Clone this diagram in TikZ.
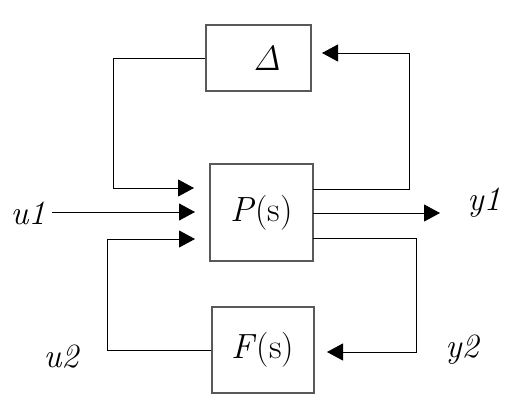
\documentclass[tikz,border=0pt]{standalone}
\usepackage{fontspec}
\usetikzlibrary{arrows.meta}
\begin{document}
\begin{tikzpicture}[x=1pt,y=-1pt,
  box/.style={draw=black!65, line width=1.1pt, inner sep=0pt, font=\fontsize{35}{40}\selectfont},
  lab/.style={font=\fontsize{34}{38}\selectfont\itshape, inner sep=0pt},
  wire/.style={line width=0.95pt},
  arr/.style={wire, -{Triangle[length=16pt,width=17pt]}}]
\useasboundingbox (0,0) rectangle (519,408);
% blocks
\node[box, minimum width=105pt, minimum height=66pt] (D) at (258.5,58) {\hspace{17pt}\textit{Δ}};
\node[box, minimum width=103pt, minimum height=97pt] (P) at (261.5,212.5) {\textit{P}(s)};
\node[box, minimum width=102pt, minimum height=86pt] (F) at (263,350) {\textit{F}(s)};
% labels
\node[lab] (u1) at (28,213) {u1};
\node[lab] (u2) at (61,357) {u2};
\node[lab] (y1) at (484,203) {y1};
\node[lab] (y2) at (462,350) {y2};
% coordinates
\coordinate (dl) at (113,58);
\coordinate (dlc) at (113,188);
\coordinate (pin1) at (194,188);
\coordinate (u1s) at (52,212);
\coordinate (pin2) at (195,212);
\coordinate (ulc) at (107,239);
\coordinate (pin3) at (195,239);
\coordinate (po1) at (313,189);
\coordinate (rc1) at (409,189);
\coordinate (rc1t) at (409,53);
\coordinate (din) at (322,53);
\coordinate (po2) at (313,213);
\coordinate (y1e) at (440,213);
\coordinate (po3) at (313,238);
\coordinate (rc2) at (416,238);
\coordinate (rc2b) at (416,352);
\coordinate (fin) at (327,352);
% connectors
\draw[arr] (D.west) -- (dl) -- (dlc) -- (pin1);
\draw[arr] (u1s) -- (pin2);
\draw[arr] (F.west) -| (ulc) -- (pin3);
\draw[arr] (po1) -- (rc1) -- (rc1t) -- (din);
\draw[arr] (po2) -- (y1e);
\draw[arr] (po3) -- (rc2) -- (rc2b) -- (fin);
\end{tikzpicture}
\end{document}
